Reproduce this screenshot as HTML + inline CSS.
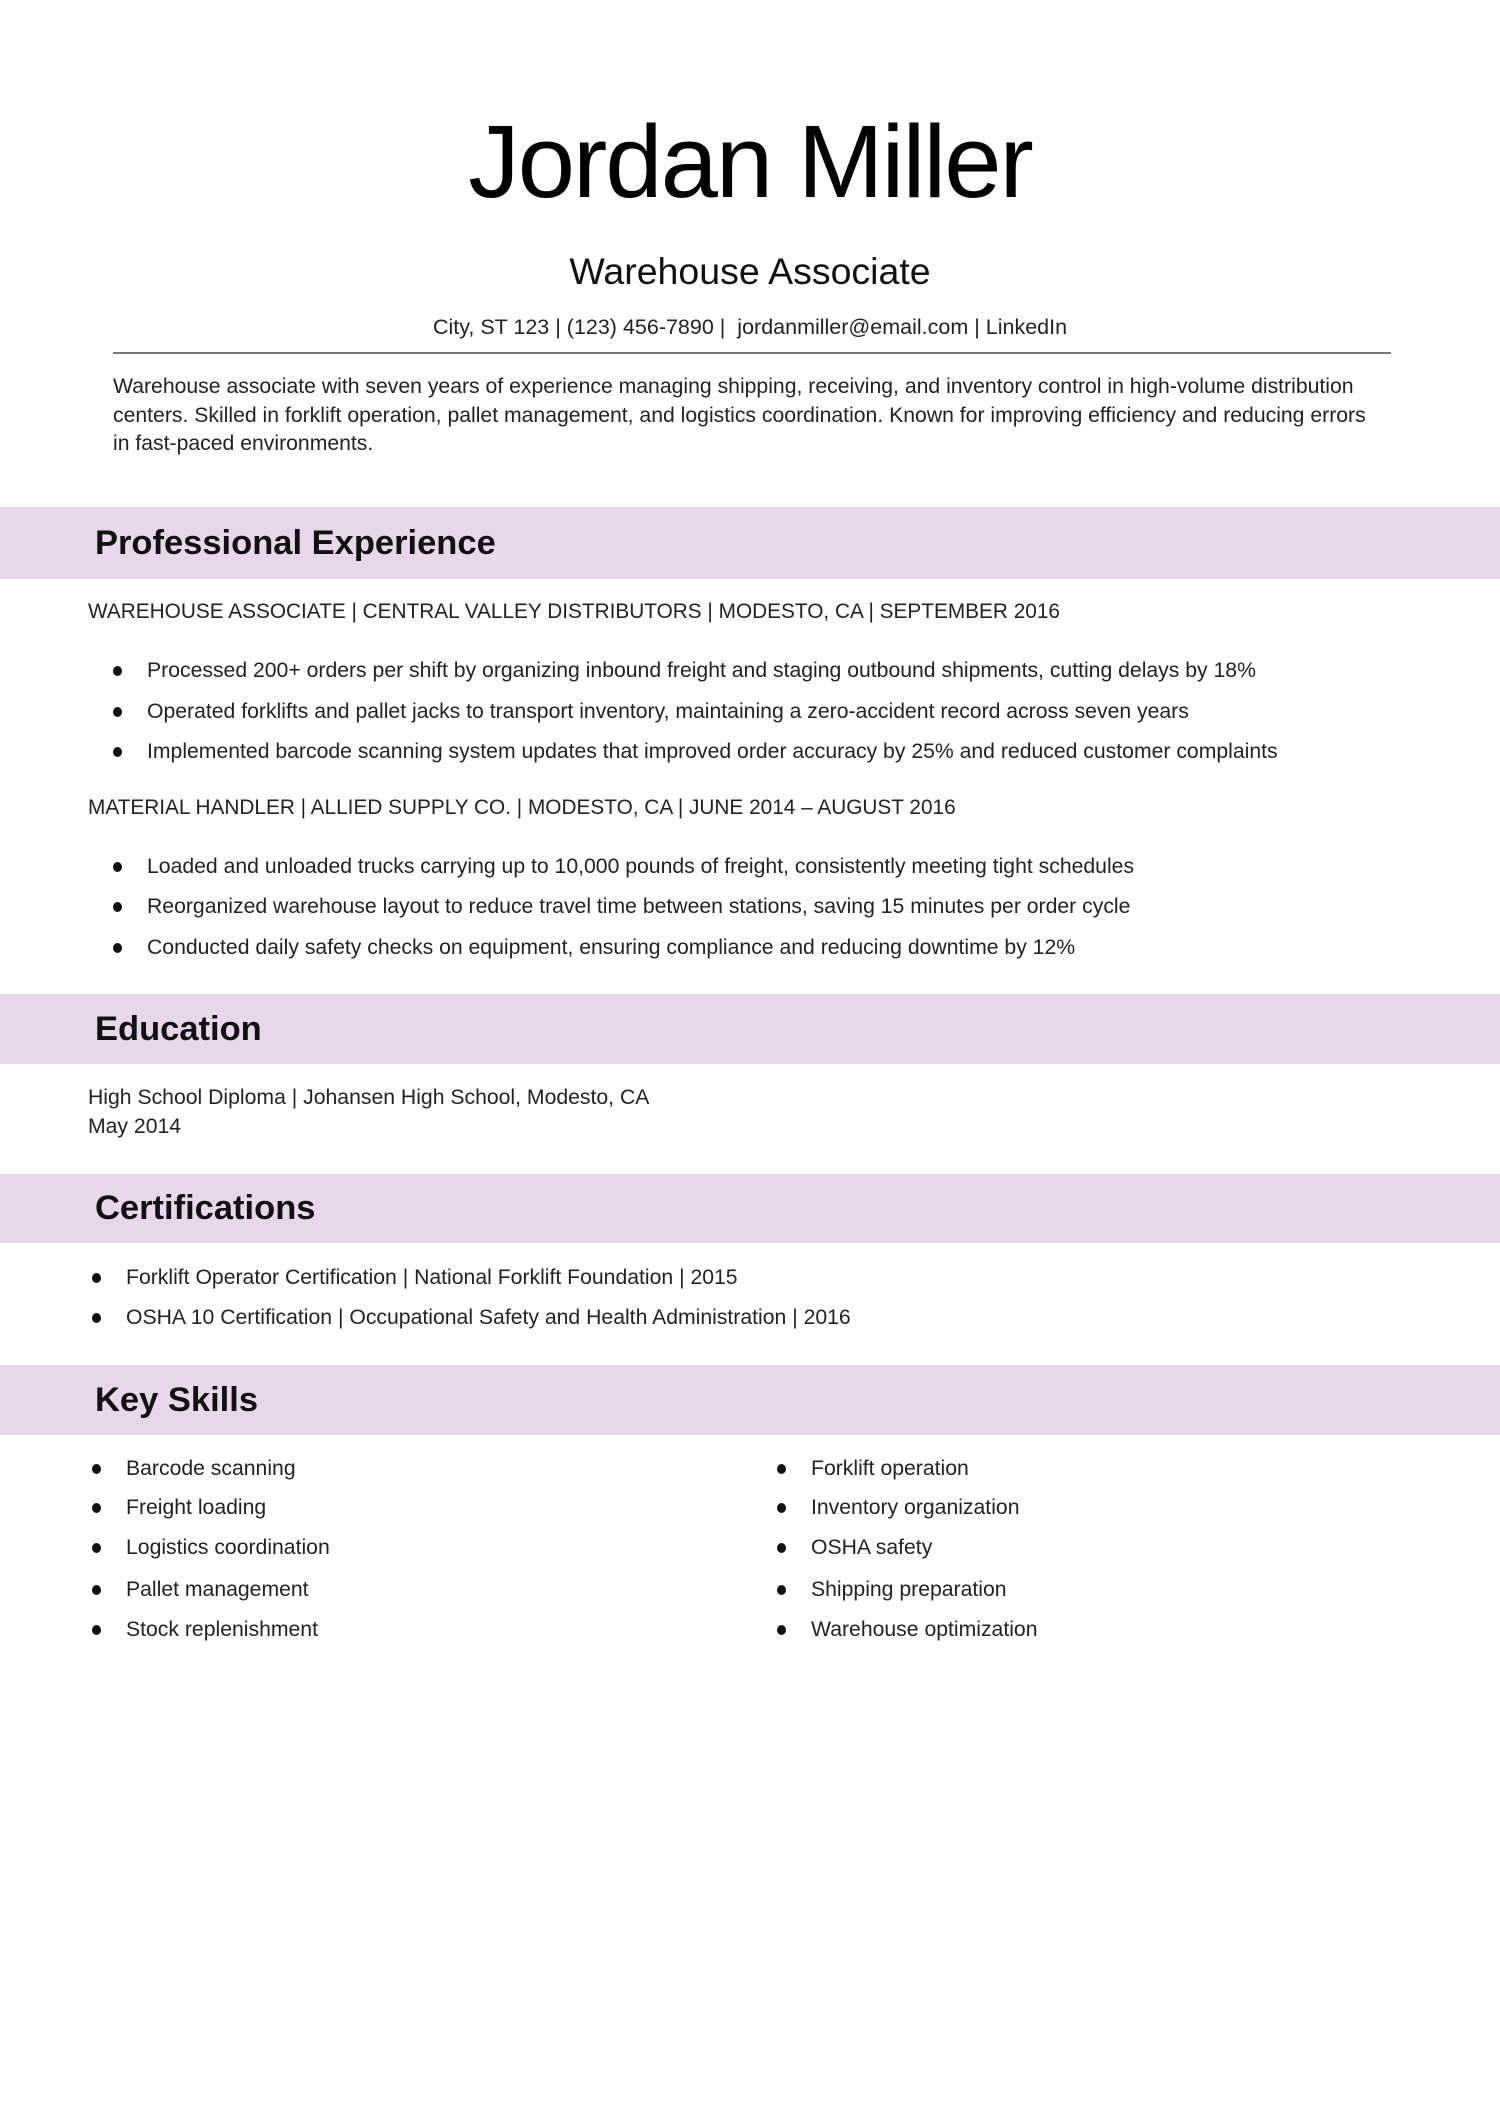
<!DOCTYPE html>
<html><head><meta charset="utf-8"><style>
body{margin:0;width:1500px;height:2121px;background:#fff;position:relative;font-family:"Liberation Sans",sans-serif;color:#222;overflow:hidden}
.a{position:absolute;white-space:nowrap;line-height:30px;font-size:21.2px}
.band{position:absolute;left:0;width:1500px;background:#e8d6ea}
.h{position:absolute;left:95px;font-weight:bold;font-size:34.5px;line-height:40px;color:#111}
.b{position:absolute;width:9px;height:10px;border-radius:50%;background:#111}
</style></head><body>
<div class="a" style="left:0;width:1500px;text-align:center;top:102px;font-size:103px;line-height:120px;color:#000;letter-spacing:-2px">Jordan Miller</div>
<div class="a" style="left:0;width:1500px;text-align:center;top:249px;font-size:37.5px;line-height:44px;color:#111">Warehouse Associate</div>
<div class="a" style="left:0;width:1500px;text-align:center;top:312px;font-size:21.5px">City, ST 123 | (123) 456-7890 |&nbsp; jordanmiller@email.com | LinkedIn</div>
<div style="position:absolute;left:113px;top:352px;width:1278px;height:2px;background:#777"></div>
<div class="a" style="left:113px;top:373px;line-height:28.5px;white-space:normal;width:1275px">Warehouse associate with seven years of experience managing shipping, receiving, and inventory control in high-volume distribution centers. Skilled in forklift operation, pallet management, and logistics coordination. Known for improving efficiency and reducing errors in fast-paced environments.</div>

<div class="band" style="top:507px;height:72px"></div>
<div class="h" style="top:523px">Professional Experience</div>
<div class="a" style="left:88px;top:597px;font-size:20.8px">WAREHOUSE ASSOCIATE | CENTRAL VALLEY DISTRIBUTORS | MODESTO, CA | SEPTEMBER 2016</div>
<div class="b" style="left:113px;top:666px"></div><div class="a" style="left:147px;top:656px">Processed 200+ orders per shift by organizing inbound freight and staging outbound shipments, cutting delays by 18%</div>
<div class="b" style="left:113px;top:707px"></div><div class="a" style="left:147px;top:697px">Operated forklifts and pallet jacks to transport inventory, maintaining a zero-accident record across seven years</div>
<div class="b" style="left:113px;top:747px"></div><div class="a" style="left:147px;top:737px">Implemented barcode scanning system updates that improved order accuracy by 25% and reduced customer complaints</div>
<div class="a" style="left:88px;top:793px;font-size:20.8px">MATERIAL HANDLER | ALLIED SUPPLY CO. | MODESTO, CA | JUNE 2014 – AUGUST 2016</div>
<div class="b" style="left:113px;top:862px"></div><div class="a" style="left:147px;top:852px">Loaded and unloaded trucks carrying up to 10,000 pounds of freight, consistently meeting tight schedules</div>
<div class="b" style="left:113px;top:902px"></div><div class="a" style="left:147px;top:892px">Reorganized warehouse layout to reduce travel time between stations, saving 15 minutes per order cycle</div>
<div class="b" style="left:113px;top:943px"></div><div class="a" style="left:147px;top:933px">Conducted daily safety checks on equipment, ensuring compliance and reducing downtime by 12%</div>

<div class="band" style="top:994px;height:70px"></div>
<div class="h" style="top:1009px">Education</div>
<div class="a" style="left:88px;top:1083px">High School Diploma | Johansen High School, Modesto, CA</div>
<div class="a" style="left:88px;top:1112px">May 2014</div>

<div class="band" style="top:1174px;height:69px"></div>
<div class="h" style="top:1188px">Certifications</div>
<div class="b" style="left:92px;top:1273px"></div><div class="a" style="left:126px;top:1263px">Forklift Operator Certification | National Forklift Foundation | 2015</div>
<div class="b" style="left:92px;top:1313px"></div><div class="a" style="left:126px;top:1303px">OSHA 10 Certification | Occupational Safety and Health Administration | 2016</div>

<div class="band" style="top:1365px;height:70px"></div>
<div class="h" style="top:1380px">Key Skills</div>
<div class="b" style="left:92px;top:1464px"></div><div class="a" style="left:126px;top:1454px">Barcode scanning</div>
<div class="b" style="left:92px;top:1503px"></div><div class="a" style="left:126px;top:1493px">Freight loading</div>
<div class="b" style="left:92px;top:1543px"></div><div class="a" style="left:126px;top:1533px">Logistics coordination</div>
<div class="b" style="left:92px;top:1585px"></div><div class="a" style="left:126px;top:1575px">Pallet management</div>
<div class="b" style="left:92px;top:1625px"></div><div class="a" style="left:126px;top:1615px">Stock replenishment</div>
<div class="b" style="left:777px;top:1464px"></div><div class="a" style="left:811px;top:1454px">Forklift operation</div>
<div class="b" style="left:777px;top:1503px"></div><div class="a" style="left:811px;top:1493px">Inventory organization</div>
<div class="b" style="left:777px;top:1543px"></div><div class="a" style="left:811px;top:1533px">OSHA safety</div>
<div class="b" style="left:777px;top:1585px"></div><div class="a" style="left:811px;top:1575px">Shipping preparation</div>
<div class="b" style="left:777px;top:1625px"></div><div class="a" style="left:811px;top:1615px">Warehouse optimization</div>
</body></html>
